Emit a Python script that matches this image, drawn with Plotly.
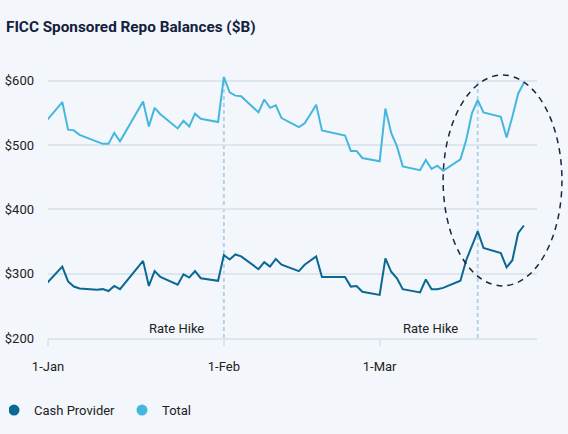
import plotly.graph_objects as go

# ---- data ----
dates = [
    "2022-01-01", "2022-01-04", "2022-01-05", "2022-01-06", "2022-01-07",
    "2022-01-10", "2022-01-11", "2022-01-12", "2022-01-13", "2022-01-14",
    "2022-01-18", "2022-01-19", "2022-01-20", "2022-01-21",
    "2022-01-24", "2022-01-25", "2022-01-26", "2022-01-27", "2022-01-28",
    "2022-01-31", "2022-02-01", "2022-02-02", "2022-02-03", "2022-02-04",
    "2022-02-07", "2022-02-08", "2022-02-09", "2022-02-10", "2022-02-11",
    "2022-02-14", "2022-02-15", "2022-02-16", "2022-02-17", "2022-02-18",
    "2022-02-22", "2022-02-23", "2022-02-24", "2022-02-25",
    "2022-02-28", "2022-03-01", "2022-03-02", "2022-03-03", "2022-03-04",
    "2022-03-07", "2022-03-08", "2022-03-09", "2022-03-10", "2022-03-11",
    "2022-03-14", "2022-03-15", "2022-03-16", "2022-03-17", "2022-03-18",
    "2022-03-21", "2022-03-22", "2022-03-23", "2022-03-24", "2022-03-25",
]
cash_provider = [
    282, 311, 288, 280, 277,
    275, 276, 273, 281, 276,
    320, 281, 304, 295,
    283, 299, 294, 304, 293,
    289, 329, 322, 330, 327,
    307, 318, 311, 323, 314,
    304, 314, 320, 327, 295,
    295, 280, 281, 272,
    267, 324, 303, 293, 276,
    271, 291, 276, 276, 278,
    289, 321, 344, 366, 340,
    332, 310, 321, 363, 375,
]
total = [
    535, 567, 524, 523, 516,
    506, 502, 502, 519, 506,
    568, 529, 558, 548,
    526, 538, 529, 549, 541,
    536, 606, 582, 577, 576,
    551, 571, 558, 562, 542,
    528, 534, 548, 563, 523,
    515, 491, 491, 480,
    475, 557, 519, 498, 467,
    461, 477, 463, 468, 460,
    478, 508, 550, 570, 551,
    544, 512, 544, 580, 597,
]
series_names = ["Cash Provider", "Total"]
series_colors = ["#0b6793", "#45b7df"]

rate_hike_dates = ["2022-02-01", "2022-03-17"]
rate_hike_label = "Rate Hike"

y_ticks = [200, 300, 400, 500, 600]
y_tick_labels = ["$200", "$300", "$400", "$500", "$600"]
x_tick_dates = ["2022-01-01 12:30", "2022-02-01", "2022-02-28"]
x_tick_labels = ["1-Jan", "1-Feb", "1-Mar"]
x_range = ["2022-01-01 12:30", "2022-03-27 06:30"]
y_range = [200, 620]

title_text = "FICC Sponsored Repo Balances ($B)"

# ---- figure ----
BG = "#f3f6fa"
GRID = "#dde6ef"
FONT = "Roboto"

fig = go.Figure()
for name, vals, col in zip(series_names, [cash_provider, total], series_colors):
    fig.add_trace(go.Scatter(
        x=dates, y=vals, mode="lines", name=name,
        line=dict(color=col, width=2), showlegend=False,
        hoverinfo="skip",
    ))
# legend entries shown as circles
for name, col in zip(series_names, series_colors):
    fig.add_trace(go.Scatter(
        x=[None], y=[None], mode="markers", name=name,
        marker=dict(color=col, size=11, symbol="circle"),
        showlegend=True,
    ))

for d in rate_hike_dates:
    fig.add_shape(type="line", xref="x", yref="y", x0=d, x1=d,
                  y0=y_range[0], y1=600, layer="below",
                  line=dict(color="#b5d3e8", width=2, dash="4px,3px"))
    fig.add_annotation(x=d, xref="x", y=0.035, yref="paper",
                       text=rate_hike_label, showarrow=False,
                       xanchor="right", yanchor="middle", xshift=-18,
                       font=dict(size=13, color="#222222", family=FONT))

# highlight ellipse
fig.add_shape(type="circle", xref="paper", yref="paper",
              x0=0.808, x1=1.051, y0=0.193, y1=0.974,
              line=dict(color="#1c2541", width=1.5, dash="6px,5px"))

fig.update_layout(
    width=568, height=434,
    paper_bgcolor=BG, plot_bgcolor=BG,
    margin=dict(l=48, r=31, t=68, b=96, autoexpand=False),
    font=dict(family=FONT, size=13, color="#222222"),
    title=dict(text="<b>" + title_text + "</b>", x=6 / 568, xanchor="left",
               xref="container", y=1 - 27 / 434, yanchor="middle",
               yref="container",
               font=dict(size=15.3, color="#14203d", family=FONT)),
    showlegend=True,
    legend=dict(orientation="h", x=-39 / 489, xanchor="left", y=-0.267,
                yanchor="middle", bgcolor="rgba(0,0,0,0)",
                indentation=-15,
                entrywidth=98, entrywidthmode="pixels",
                font=dict(size=13, color="#222222", family=FONT),
                itemclick=False),
    xaxis=dict(type="date", range=x_range, tickvals=x_tick_dates,
               ticktext=x_tick_labels, showgrid=False,
               showline=True, linecolor=GRID, linewidth=1.5,
               ticks="outside", ticklen=6, tickcolor=GRID, tickwidth=1.5,
               ticklabelstandoff=10, zeroline=False,
               tickfont=dict(size=13, color="#222222")),
    yaxis=dict(range=y_range, tickvals=y_ticks, ticktext=y_tick_labels,
               showgrid=True, gridcolor=GRID, gridwidth=1.5,
               zeroline=False, showline=False, ticks="",
               ticklabelstandoff=13,
               tickfont=dict(size=13, color="#222222")),
)

fig.write_html(
    "out.html",
    config={"displayModeBar": False},
    post_script="document.body.style.margin='0';"
                "document.body.style.background='" + BG + "';",
)
